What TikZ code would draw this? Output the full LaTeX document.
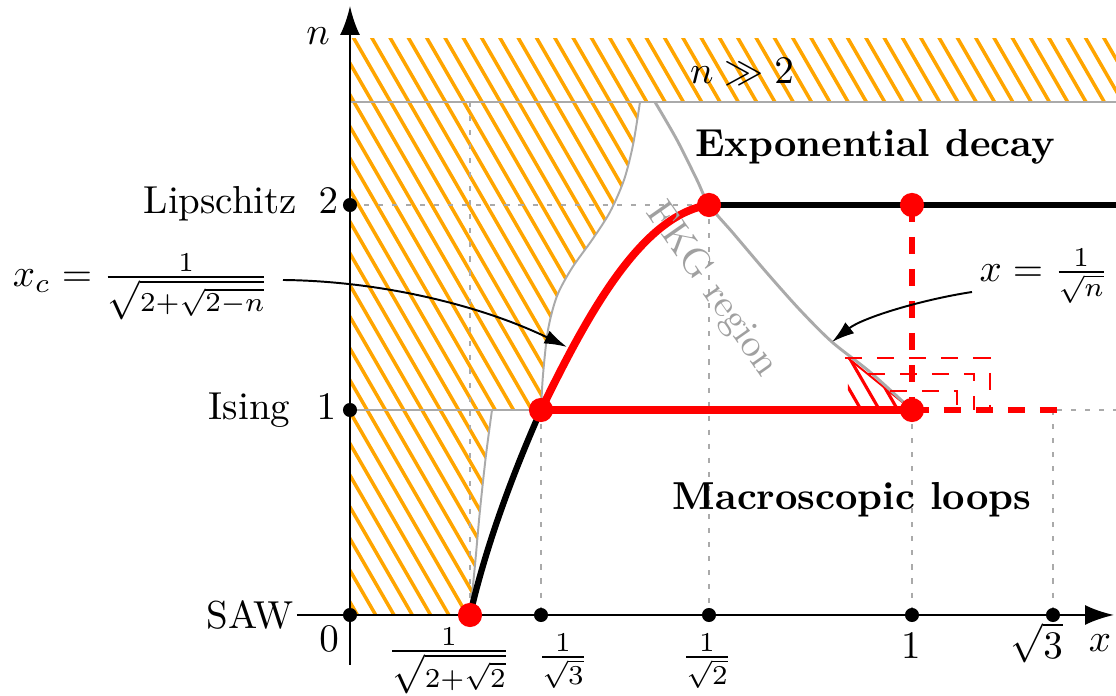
\documentclass[tikz,border=0pt]{standalone}
\usetikzlibrary{arrows.meta}
\definecolor{hatchorange}{RGB}{255,165,0}
\definecolor{bgray}{RGB}{170,170,170}
\definecolor{tgray}{RGB}{160,160,160}
\begin{document}
\begin{tikzpicture}[x=0.2564pt,y=-0.2564pt,
  hatch/.style={hatchorange,line width=0.9pt},
  rhatch/.style={red,line width=0.8pt},
  bound/.style={bgray,line width=0.5pt},
  guide/.style={bgray,line width=0.4pt,dash pattern=on 1.3pt off 2.3pt},
  axisline/.style={line width=0.65pt,-{Latex[length=7.4pt,width=5.1pt]}},
  bdot/.style={circle,fill=black,inner sep=0pt,minimum size=3.6pt},
  rdot/.style={circle,fill=red,inner sep=0pt,minimum size=6.2pt},
  callout/.style={line width=0.5pt,-{Latex[length=5.8pt,width=3.6pt]}},
  rdash/.style={red,dash pattern=on 4.4pt off 3.8pt},
  lab/.style={inner sep=0pt},
]
\useasboundingbox (0,0) rectangle (1116,696);

% ---------- hatched regions ----------
\begin{scope}
  \clip (350,39) rectangle (1116,102);
  \foreach \k in {-6,...,44} \draw[hatch] ({350+18.3*\k},0) -- ++(400,692.8);
\end{scope}
\begin{scope}
  \clip (350,102) -- (640,102)
    -- plot[smooth] coordinates {(640,102) (633,145) (624,180) (610,212) (592,240) (572,268) (557,296) (548,330) (543,375) (541,410)}
    -- (492,410)
    -- plot[smooth] coordinates {(492,410) (486,455) (480,510) (475,565) (470,615)}
    -- (350,615) -- cycle;
  \foreach \k in {-22,...,20} \draw[hatch] ({350+18.3*\k},0) -- ++(400,692.8);
\end{scope}
\begin{scope}
  \clip (848,358) -- (912,410) -- (848,410) -- cycle;
  \foreach \k in {10,...,20} \draw[rhatch] ({350+18.3*\k},0) -- ++(400,692.8);
\end{scope}
\draw[red,line width=0.5pt] (848,358) -- (912,410);

% ---------- guides ----------
\coordinate (g470) at (470,102);
\coordinate (gr) at (1116,410);
\draw[guide] (350,205) -- (709,205);
\draw[guide] (g470) -- (470,615);
\draw[guide] (541,410) -- (541,615);
\draw[guide] (709,205) -- (709,615);
\draw[guide] (912,410) -- (912,615);
\draw[guide] (1053,410) -- (1053,615);
\draw[guide] (1057,410) -- (gr);

% ---------- boundaries ----------
\draw[bound] (350,102) -- (1116,102);
\draw[bound] (350,410) -- (541,410);
\draw[bound] plot[smooth] coordinates {(640,102) (633,145) (624,180) (610,212) (592,240) (572,268) (557,296) (548,330) (543,375) (541,410)};
\draw[bound] plot[smooth] coordinates {(492,410) (486,455) (480,510) (475,565) (470,615)};
\draw[bound,line width=0.75pt] plot[smooth] coordinates {(655,102) (677,140) (697,180) (709,205) (733,233) (767,273) (800,310) (832,342) (870,372) (912,410)};

% ---------- red dashed boxes ----------
\draw[rdash,line width=0.5pt] (845,358) -- (990,358) -- (990,410);
\draw[rdash,line width=0.5pt] (868,374) -- (974,374) -- (974,410);
\draw[rdash,line width=0.5pt] (890,391) -- (957,391) -- (957,410);

% ---------- axes ----------
\coordinate (xs) at (297,615);
\coordinate (xe) at (1114,615);
\coordinate (ns) at (350,665);
\coordinate (ne) at (350,6);
\draw[axisline] (xs) -- (xe);
\draw[axisline] (ns) -- (ne);

% ---------- points ----------
\coordinate (A) at (470,615);
\coordinate (B) at (541,410);
\coordinate (C) at (709,205);
\coordinate (D) at (912,205);
\coordinate (E) at (912,410);
\coordinate (F) at (1057,410);
\coordinate (R) at (1116,205);

% ---------- curves ----------
\draw[line width=1.45pt] (C) -- (R);
\draw[line width=1.6pt] (A) .. controls (485,550) and (510,480) .. (B);
\draw[red,line width=2.1pt] (B) -- (E);
\draw[red,line width=2.0pt] (B) .. controls (585,320) and (640,215) .. (C);
\draw[rdash,line width=1.3pt] (D) -- (E);
\draw[rdash,line width=1.7pt] (E) -- (F);

% ---------- dots ----------
\node[bdot] (o) at (350,615) {};
\node[bdot] (n1) at (350,410) {};
\node[bdot] (n2) at (350,205) {};
\node[bdot] (t3) at (541,615) {};
\node[bdot] (t2) at (709,615) {};
\node[bdot] (t1) at (912,615) {};
\node[bdot] (ts3) at (1053,615) {};
\node[rdot] (pA) at (A) {};
\node[rdot] (pB) at (B) {};
\node[rdot] (pC) at (C) {};
\node[rdot] (pD) at (D) {};
\node[rdot] (pE) at (E) {};

% ---------- labels ----------
\node[lab] (nl) at (318,36) {$n$};
\node[lab] (xl) at (1100,643) {$x$};
\node[lab] (zl) at (329,639) {$0$};
\node[lab,anchor=east] (sawl) at (294,615) {SAW};
\node[lab,anchor=base east] (lipl) at (298,214) {Lipschitz};
\node[lab,anchor=base east] (twol) at (339,214) {$2$};
\node[lab,anchor=base east] (isl) at (291,420) {Ising};
\node[lab,anchor=base east] (onel) at (337,420) {$1$};
\node[lab] (fa) at (449,661) {$\frac{1}{\sqrt{2+\sqrt{2}}}$};
\node[lab] (fb) at (563,661) {$\frac{1}{\sqrt{3}}$};
\node[lab] (fc) at (707,661) {$\frac{1}{\sqrt{2}}$};
\node[lab] (fd) at (911,646) {$1$};
\node[lab] (fe) at (1037,643) {$\sqrt{3}$};
\node[lab] (nbig) at (742,72) {$n\gg 2$};
\node[lab,font=\bfseries] (exl) at (875,147) {Exponential decay};
\node[lab,font=\bfseries] (mal) at (852,500) {Macroscopic loops};
\node[lab,text=tgray,rotate=-55] (fkg) at (712,290) {FKG region};
\node[lab] (xcl) at (141,287) {$x_c=\frac{1}{\sqrt{2+\sqrt{2-n}}}$};
\node[lab] (sql) at (1044,276) {$x=\frac{1}{\sqrt{n}}$};

% ---------- callouts ----------
\coordinate (xcs) at (283,280);
\coordinate (xct) at (567,347);
\coordinate (sqs) at (972,292);
\coordinate (sqt) at (832,342);
\draw[callout] (xcs) .. controls (380,281) and (480,305) .. (xct);
\draw[callout] (sqs) .. controls (920,300) and (862,318) .. (sqt);
\end{tikzpicture}
\end{document}
